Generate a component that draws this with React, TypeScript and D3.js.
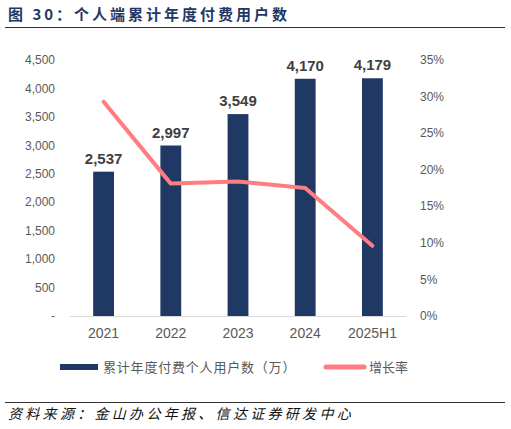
import * as d3 from "d3";

const categories = ["2021", "2022", "2023", "2024", "2025H1"];
const payingUsers = [2537, 2997, 3549, 4170, 4179];
const growthRate = [29.3, 18.1, 18.4, 17.5, 9.6];
const leftTicks = [0, 500, 1000, 1500, 2000, 2500, 3000, 3500, 4000, 4500];
const rightTicks = [0, 5, 10, 15, 20, 25, 30, 35];

const W = 511;
const H = 429;
const plot = { left: 70, right: 406, top: 60, bottom: 316 };
const NAVY = "#1f3864";
const PINK = "#ff7c80";
const TICK = "#595959";
const CJK = "'Noto Sans CJK SC', 'Liberation Sans', sans-serif";
const SANS = "'Liberation Sans', Arial, sans-serif";

export default function App() {
  const x = d3
    .scaleBand<string>()
    .domain(categories)
    .range([plot.left, plot.right])
    .paddingInner(0.69)
    .paddingOuter(0.345);
  const y = d3.scaleLinear().domain([0, 4500]).range([plot.bottom, plot.top]);
  const y2 = d3.scaleLinear().domain([0, 35]).range([plot.bottom, plot.top]);
  const fmt = d3.format(",");

  const line = d3
    .line<number>()
    .x((_, i) => x(categories[i])! + x.bandwidth() / 2)
    .y((d) => y2(d));

  return (
    <svg width={W} height={H} style={{ position: "absolute", left: 0, top: 0 }}>
      <rect width={W} height={H} fill="#fff" />
      <text x={8} y={20} fontFamily={CJK} fontSize={15} fontWeight="bold" fill={NAVY} letterSpacing={3}>
        图 30：个人端累计年度付费用户数
      </text>
      <line x1={5} x2={505} y1={27.5} y2={27.5} stroke="#333" strokeWidth={1} />

      {leftTicks.map((t) => (
        <text key={t} x={55} y={y(t)} dy="0.35em" textAnchor="end" fontFamily={SANS} fontSize={12} fill={TICK}>
          {t === 0 ? "-" : fmt(t)}
        </text>
      ))}
      {rightTicks.map((t) => (
        <text key={t} x={420} y={y2(t)} dy="0.35em" fontFamily={SANS} fontSize={12} fill={TICK}>
          {t}%
        </text>
      ))}

      {payingUsers.map((v, i) => (
        <g key={categories[i]}>
          <rect
            x={x(categories[i])}
            y={y(v)}
            width={x.bandwidth()}
            height={plot.bottom - y(v)}
            fill={NAVY}
          />
          <text
            x={x(categories[i])! + x.bandwidth() / 2}
            y={y(v) - 8}
            textAnchor="middle"
            fontFamily={SANS}
            fontSize={15}
            fontWeight="bold"
            fill="#404040"
          >
            {fmt(v)}
          </text>
        </g>
      ))}
      <line x1={plot.left} x2={plot.right} y1={plot.bottom + 0.5} y2={plot.bottom + 0.5} stroke="#d9d9d9" strokeWidth={1} />

      <path d={line(growthRate) ?? ""} fill="none" stroke={PINK} strokeWidth={4} strokeLinecap="round" strokeLinejoin="round" />

      {categories.map((c) => (
        <text key={c} x={x(c)! + x.bandwidth() / 2} y={333} dy="0.35em" textAnchor="middle" fontFamily={SANS} fontSize={14} fill={TICK}>
          {c}
        </text>
      ))}

      <rect x={60} y={364} width={38} height={6} fill={NAVY} />
      <text x={103} y={367} dy="0.35em" fontFamily={CJK} fontSize={13} fill={TICK} letterSpacing={0.8}>
        累计年度付费个人用户数（万）
      </text>
      <line x1={326} x2={364} y1={367} y2={367} stroke={PINK} strokeWidth={5} strokeLinecap="round" />
      <text x={369} y={367} dy="0.35em" fontFamily={CJK} fontSize={13} fill={TICK}>
        增长率
      </text>

      <line x1={5} x2={505} y1={402.5} y2={402.5} stroke="#333" strokeWidth={1} />
      <text x={8} y={419} fontFamily={CJK} fontSize={14} fontStyle="italic" fill="#111" letterSpacing={3.3}>
        资料来源：金山办公年报、信达证券研发中心
      </text>
    </svg>
  );
}
